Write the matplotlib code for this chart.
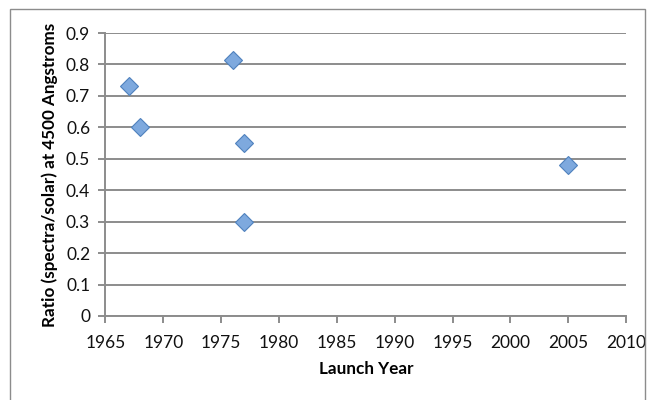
import matplotlib.pyplot as plt
from matplotlib.patches import Rectangle

# Launch year vs. reflectance ratio at 4500 Angstroms
launch_year = [1967, 1968, 1976, 1977, 1977, 2005]
ratio = [0.73, 0.60, 0.815, 0.55, 0.30, 0.48]

x_ticks = [1965, 1970, 1975, 1980, 1985, 1990, 1995, 2000, 2005, 2010]
y_ticks = [0, 0.1, 0.2, 0.3, 0.4, 0.5, 0.6, 0.7, 0.8, 0.9]

plt.rcParams['font.family'] = ['Lato', 'DejaVu Sans']

fig = plt.figure(figsize=(6.55, 4.0), dpi=100)
ax = fig.add_axes([0.161, 0.21, 0.795, 0.7075])

# outer chart frame
fig.patches.append(Rectangle((10 / 655, -0.05), 635 / 655, 1 - 9 / 400 + 0.05,
                             transform=fig.transFigure, fill=False,
                             edgecolor='#8c8c8c', linewidth=1.0))

ax.grid(axis='y', color='#8c8c8c', linewidth=1.4)
ax.set_axisbelow(True)

ax.plot(launch_year, ratio, linestyle='none', marker='D', markersize=8.8,
        markerfacecolor='#7ea9de', markeredgecolor='#4f81bd', markeredgewidth=0.8,
        zorder=3)

ax.set_xlim(1965, 2010)
ax.set_ylim(0, 0.9)
ax.set_xticks(x_ticks)
ax.set_yticks(y_ticks)
ax.set_yticklabels(['0' if v == 0 else f'{v:.1f}' for v in y_ticks])

for side in ['top', 'right']:
    ax.spines[side].set_visible(False)
for side in ['left', 'bottom']:
    ax.spines[side].set_color('#8c8c8c')
    ax.spines[side].set_linewidth(1.4)

ax.tick_params(axis='both', colors='#8c8c8c', length=5, width=1.4,
               labelcolor='#111111', labelsize=12.5)
ax.tick_params(axis='x', pad=9)
ax.tick_params(axis='y', pad=6)

ax.set_xlabel('Launch Year', fontsize=12.3, fontweight='bold', labelpad=7)
ax.set_ylabel('Ratio (spectra/solar) at 4500 Angstroms', fontsize=12.3,
              fontweight='bold', labelpad=6)

fig.savefig('out.png', dpi=100)
